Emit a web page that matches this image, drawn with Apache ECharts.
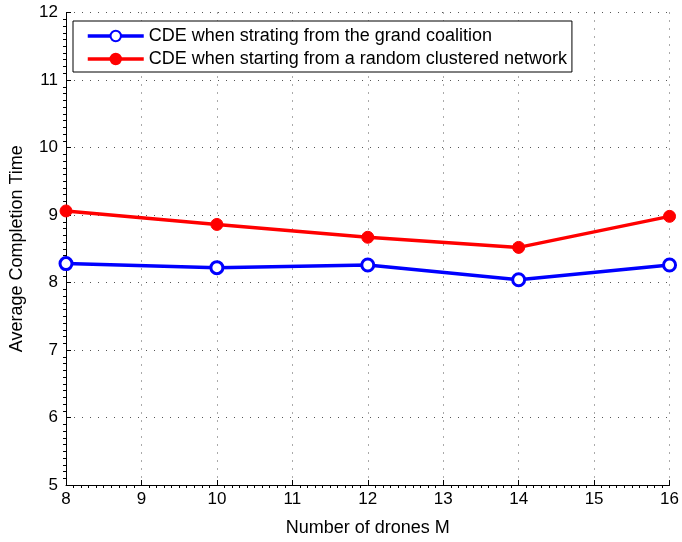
<!DOCTYPE html>
<html>
<head>
<meta charset="utf-8">
<script src="https://cdn.jsdelivr.net/npm/echarts@6/dist/echarts.min.js"></script>
<style>html,body{margin:0;padding:0;background:#fff}#c{width:682px;height:542px}</style>
</head>
<body>
<div id="c"></div>
<script>
var xValues = [8, 10, 12, 14, 16];
var grandCoalition = [8.28, 8.22, 8.26, 8.04, 8.26];
var randomClustered = [9.06, 8.86, 8.67, 8.52, 8.98];
var seriesNames = ['CDE when strating from the grand coalition', 'CDE when starting from a random clustered network'];
var xTitle = 'Number of drones M';
var yTitle = 'Average Completion Time';

function pairs(xs, ys) { return xs.map(function (x, i) { return [x, ys[i]]; }); }

var font = 'Liberation Sans, Arial, Helvetica, sans-serif';
var chart = echarts.init(document.getElementById('c'));
var gridLine = { show: true, lineStyle: { color: '#555', type: [1, 7], width: 1 } };
chart.setOption({
  animation: false,
  grid: { left: 65, right: 9, top: 12.5, bottom: 51, containLabel: false },
  legend: {
    orient: 'vertical', left: 73, top: 21,
    backgroundColor: '#fff', borderColor: '#000', borderWidth: 1,
    padding: [6, 5, 4, 13], itemGap: 5, itemWidth: 56, itemHeight: 13,
    lineStyle: { width: 3.5 },
    textStyle: { fontFamily: font, fontSize: 18, color: '#000' },
    data: seriesNames
  },
  xAxis: {
    type: 'value', min: 8, max: 16, interval: 1,
    name: xTitle, nameLocation: 'middle', nameGap: 34,
    nameTextStyle: { fontFamily: font, fontSize: 18, color: '#000' },
    axisLine: { show: true, onZero: false, lineStyle: { color: '#000', width: 1 } },
    axisTick: { show: true, inside: true, length: 5, lineStyle: { color: '#000' } },
    minorTick: { show: true, splitNumber: 10, length: -3, lineStyle: { color: '#000' } },
    axisLabel: { fontFamily: font, fontSize: 17, color: '#000', margin: 6 },
    splitLine: gridLine
  },
  yAxis: {
    type: 'value', min: 5, max: 12, interval: 1,
    name: yTitle, nameLocation: 'middle', nameGap: 40,
    nameTextStyle: { fontFamily: font, fontSize: 18, color: '#000' },
    axisLine: { show: true, onZero: false, lineStyle: { color: '#000', width: 1 } },
    axisTick: { show: true, inside: true, length: 5, lineStyle: { color: '#000' } },
    minorTick: { show: true, splitNumber: 10, length: -3, lineStyle: { color: '#000' } },
    axisLabel: { fontFamily: font, fontSize: 17, color: '#000', margin: 8 },
    splitLine: gridLine
  },
  series: [
    {
      name: seriesNames[0], type: 'line', data: pairs(xValues, grandCoalition),
      color: '#0000ff', symbol: 'circle', symbolSize: 12, showAllSymbol: true,
      lineStyle: { width: 3.5, color: '#0000ff' },
      itemStyle: { color: '#ffffff', borderColor: '#0000ff', borderWidth: 3 }
    },
    {
      name: seriesNames[1], type: 'line', data: pairs(xValues, randomClustered),
      color: '#ff0000', symbol: 'circle', symbolSize: 12, showAllSymbol: true,
      lineStyle: { width: 3.5, color: '#ff0000' },
      itemStyle: { color: '#ff0000', borderColor: '#ff0000', borderWidth: 1 }
    }
  ]
});
</script>
</body>
</html>
